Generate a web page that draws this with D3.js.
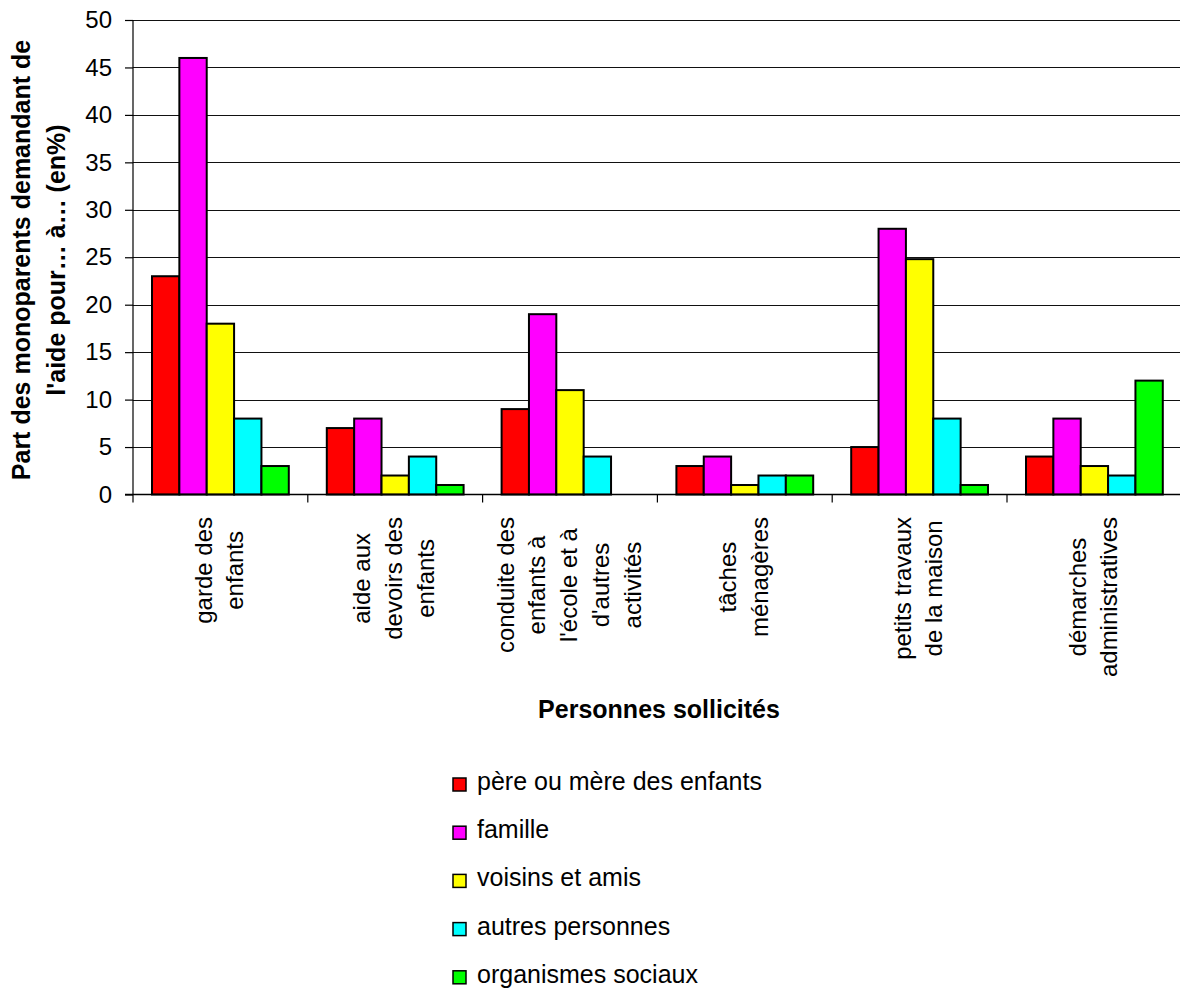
<!DOCTYPE html>
<html>
<head>
<meta charset="utf-8">
<script src="https://cdn.jsdelivr.net/npm/d3@7"></script>
<style>
  html, body { margin: 0; padding: 0; background: #fff; }
  svg { display: block; font-family: "Liberation Sans", Arial, sans-serif; }
</style>
</head>
<body>
<svg id="chart" width="1180" height="990"></svg>
<script>
// ---- data ----
const categories = [
  "garde des enfants",
  "aide aux devoirs des enfants",
  "conduite des enfants à l'école et à d'autres activités",
  "tâches ménagères",
  "petits travaux de la maison",
  "démarches administratives"
];
const categoryLines = [
  ["garde des", "enfants"],
  ["aide aux", "devoirs des", "enfants"],
  ["conduite des", "enfants à", "l'école et à", "d'autres", "activités"],
  ["tâches", "ménagères"],
  ["petits travaux", "de la maison"],
  ["démarches", "administratives"]
];
const seriesNames = [
  "père ou mère des enfants",
  "famille",
  "voisins et amis",
  "autres personnes",
  "organismes sociaux"
];
const seriesColors = ["#ff0000", "#ff00ff", "#ffff00", "#00ffff", "#00ff00"];
const pereMere   = [23, 7, 9, 3, 5, 4];
const famille    = [46, 8, 19, 4, 28, 8];
const voisins    = [18, 2, 11, 1, 24.8, 3];
const autres     = [8, 4, 4, 2, 8, 2];
const organismes = [3, 1, null, 2, 1, 12];
const seriesValues = [pereMere, famille, voisins, autres, organismes];
const yTicks = [0, 5, 10, 15, 20, 25, 30, 35, 40, 45, 50];
const yTitleLines = ["Part des monoparents demandant de", "l'aide pour… à… (en%)"];
const xTitle = "Personnes sollicités";

// ---- layout ----
const svg = d3.select("#chart");
const plotLeft = 133, plotRight = 1181.8, plotTop = 20, plotBottom = 494.5;

const x = d3.scaleBand().domain(categories).range([plotLeft, plotRight]).paddingInner(0).paddingOuter(0);
const bw = x.bandwidth();
const xs = d3.scaleBand().domain(seriesNames).range([19, bw - 19]).padding(0);
const y = d3.scaleLinear().domain([0, 50]).range([plotBottom, plotTop]);

// gridlines
svg.append("g")
  .selectAll("line")
  .data(yTicks.filter(d => d > 0))
  .join("line")
  .attr("x1", plotLeft).attr("x2", 1180)
  .attr("y1", d => Math.round(y(d)) + 0.5).attr("y2", d => Math.round(y(d)) + 0.5)
  .attr("stroke", "#111").attr("stroke-width", 1);

// bars
const flat = [];
seriesValues.forEach((vals, si) => {
  vals.forEach((v, ci) => {
    if (v !== null) flat.push({ s: seriesNames[si], c: categories[ci], v, color: seriesColors[si] });
  });
});
svg.append("g")
  .selectAll("rect")
  .data(flat)
  .join("rect")
  .attr("x", d => x(d.c) + xs(d.s))
  .attr("y", d => y(d.v))
  .attr("width", xs.bandwidth())
  .attr("height", d => y(0) - y(d.v))
  .attr("fill", d => d.color)
  .attr("stroke", "#000")
  .attr("stroke-width", 2);

// y axis
const yAxis = svg.append("g")
  .attr("transform", `translate(${plotLeft},0)`)
  .call(d3.axisLeft(y).tickValues(yTicks).tickSize(8).tickPadding(13).tickFormat(d3.format("d")));
yAxis.select(".domain").attr("d", `M0,${plotTop}V${plotBottom + 8}`).attr("stroke", "#000").attr("stroke-width", 1.2);
yAxis.selectAll(".tick line").attr("stroke", "#000").attr("stroke-width", 1.2);
yAxis.selectAll(".tick text").attr("font-size", 24).attr("fill", "#000")
  .attr("font-family", "'Liberation Sans', Arial, sans-serif");

// x axis
const xAxisG = svg.append("g");
xAxisG.append("line")
  .attr("x1", plotLeft - 8).attr("x2", 1180)
  .attr("y1", plotBottom).attr("y2", plotBottom)
  .attr("stroke", "#000").attr("stroke-width", 1.5);
xAxisG.selectAll("line.tk")
  .data(categories)
  .join("line")
  .attr("class", "tk")
  .attr("x1", d => x(d) + bw).attr("x2", d => x(d) + bw)
  .attr("y1", plotBottom).attr("y2", plotBottom + 8)
  .attr("stroke", "#000").attr("stroke-width", 1.2);

// category labels (rotated, multi-line, centered on longest line)
const lineStep = 31.75, labelTop = 517;
categories.forEach((c, ci) => {
  const lines = categoryLines[ci];
  const cx = x(c) + bw / 2;
  const g = svg.append("g");
  const texts = g.selectAll("text")
    .data(lines)
    .join("text")
    .attr("font-size", 24)
    .attr("fill", "#000")
    .attr("text-anchor", "middle")
    .text(d => d);
  let maxLen = 0;
  texts.each(function () { maxLen = Math.max(maxLen, this.getComputedTextLength()); });
  texts.attr("transform", (d, i) => {
    const bx = cx + (i - (lines.length - 1) / 2) * lineStep + 7;
    return `translate(${bx},${labelTop + maxLen / 2}) rotate(-90)`;
  });
});

// y title
svg.append("g")
  .selectAll("text")
  .data(yTitleLines)
  .join("text")
  .attr("transform", (d, i) => `translate(${i === 0 ? 30 : 65},260) rotate(-90)`)
  .attr("text-anchor", "middle")
  .attr("font-size", 25)
  .attr("font-weight", "bold")
  .attr("fill", "#000")
  .text(d => d);

// x title
svg.append("text")
  .attr("x", 659).attr("y", 718)
  .attr("text-anchor", "middle")
  .attr("font-size", 25)
  .attr("font-weight", "bold")
  .attr("fill", "#000")
  .text(xTitle);

// legend
const legend = svg.append("g").selectAll("g")
  .data(seriesNames)
  .join("g")
  .attr("transform", (d, i) => `translate(453,${778 + i * 48.2})`);
legend.append("rect")
  .attr("width", 13).attr("height", 13)
  .attr("fill", (d, i) => seriesColors[i])
  .attr("stroke", "#000").attr("stroke-width", 1.5);
legend.append("text")
  .attr("x", 24).attr("y", 12)
  .attr("font-size", 25)
  .attr("fill", "#000")
  .text(d => d);
</script>
</body>
</html>
